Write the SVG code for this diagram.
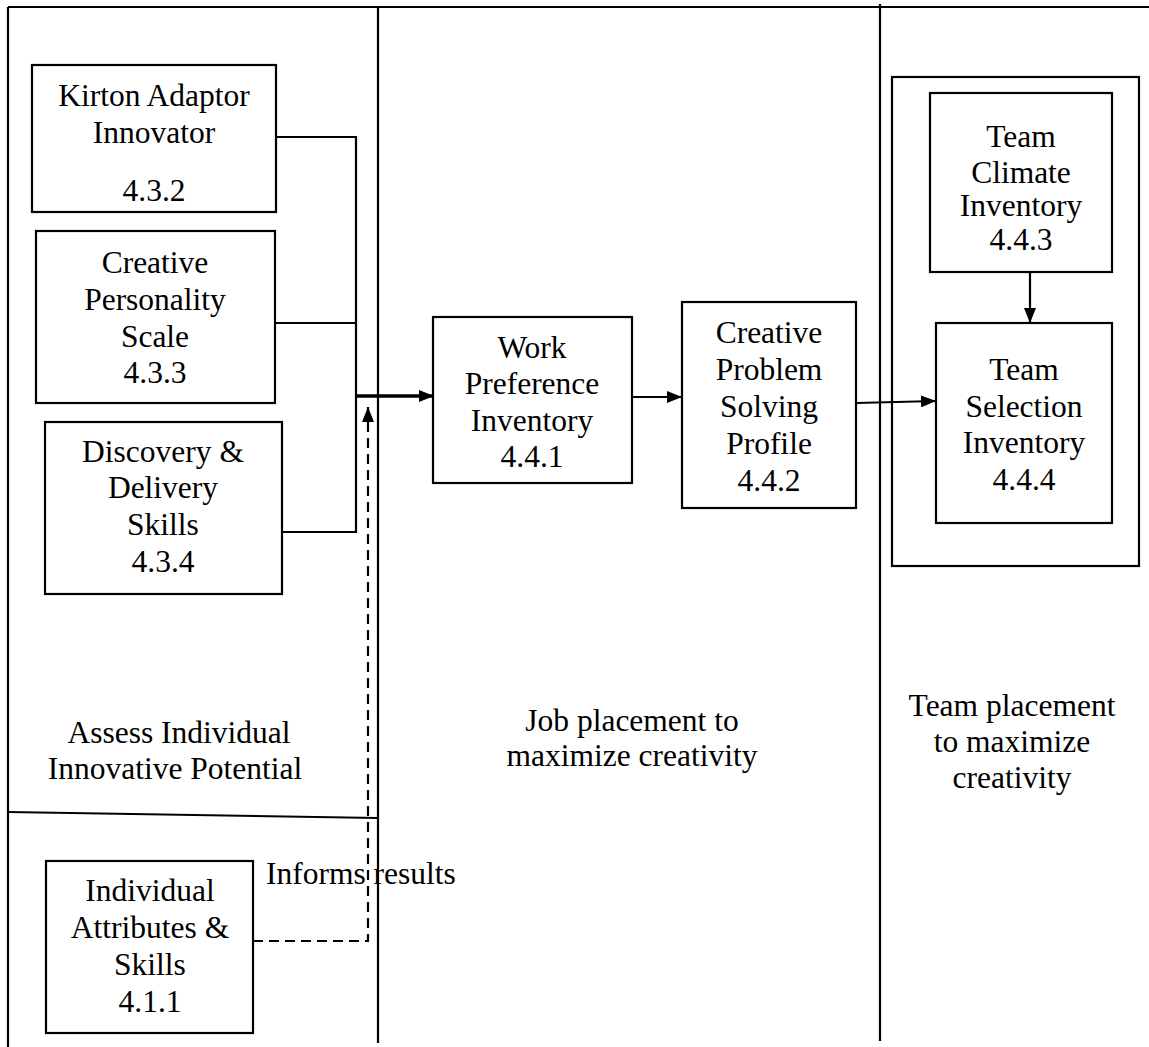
<svg xmlns="http://www.w3.org/2000/svg" width="1149" height="1047" viewBox="0 0 1149 1047">
  <style>
    .box { fill: #fff; stroke: #000; stroke-width: 2.2; }
    .frame { fill: none; stroke: #000; stroke-width: 2.2; }
    .conn { fill: none; stroke: #000; stroke-width: 2.2; }
    .thick { fill: none; stroke: #000; stroke-width: 3.5; }
    .dash { fill: none; stroke: #000; stroke-width: 2.2; stroke-dasharray: 10 6; }
    text { font-family: "Liberation Serif", "Times New Roman", serif; font-size: 31.5px; fill: #000; }
    .c { text-anchor: middle; }
  </style>
  <defs>
    <marker id="head" viewBox="0 0 15 12" refX="15" refY="6" markerWidth="15" markerHeight="12" markerUnits="userSpaceOnUse" orient="auto">
      <path d="M0,0 L15,6 L0,12 z" fill="#000" stroke="none"/>
    </marker>
  </defs>
  <rect width="1149" height="1047" fill="#fff"/>

  <!-- swimlane frame -->
  <g id="lanes">
    <line class="frame" x1="8" y1="7" x2="1149" y2="7"/>
    <line class="frame" x1="8" y1="7" x2="8" y2="1047"/>
    <line class="frame" x1="378" y1="7" x2="378" y2="1043"/>
    <line class="frame" x1="880" y1="4" x2="880" y2="1041"/>
    <line class="frame" x1="8" y1="812" x2="378" y2="818"/>
  </g>

  <!-- lane captions -->
  <g id="lane-labels">
    <text class="c" x="179" y="743">Assess Individual</text>
    <text class="c" x="175" y="779">Innovative Potential</text>
    <text class="c" x="632" y="731">Job placement to</text>
    <text class="c" x="632" y="766">maximize creativity</text>
    <text class="c" x="1012" y="716">Team placement</text>
    <text class="c" x="1012" y="752">to maximize</text>
    <text class="c" x="1012" y="788">creativity</text>
  </g>

  <!-- team grouping container -->
  <g id="team-group">
    <rect class="box" x="892" y="77" width="247" height="489"/>
  </g>

  <g id="kirton">
    <rect class="box" x="32" y="65" width="244" height="147"/>
    <text class="c" x="154" y="106">Kirton Adaptor</text>
    <text class="c" x="154" y="143">Innovator</text>
    <text class="c" x="154" y="201">4.3.2</text>
  </g>

  <g id="creative-personality">
    <rect class="box" x="36" y="231" width="239" height="172"/>
    <text class="c" x="155" y="273">Creative</text>
    <text class="c" x="155" y="310">Personality</text>
    <text class="c" x="155" y="347">Scale</text>
    <text class="c" x="155" y="383">4.3.3</text>
  </g>

  <g id="discovery-delivery">
    <rect class="box" x="45" y="422" width="237" height="172"/>
    <text class="c" x="163" y="462">Discovery &amp;</text>
    <text class="c" x="163" y="498">Delivery</text>
    <text class="c" x="163" y="535">Skills</text>
    <text class="c" x="163" y="572">4.3.4</text>
  </g>

  <g id="individual-attributes">
    <rect class="box" x="46" y="861" width="207" height="172"/>
    <text class="c" x="150" y="901">Individual</text>
    <text class="c" x="150" y="938">Attributes &amp;</text>
    <text class="c" x="150" y="975">Skills</text>
    <text class="c" x="150" y="1012">4.1.1</text>
  </g>

  <g id="work-preference">
    <rect class="box" x="433" y="317" width="199" height="166"/>
    <text class="c" x="532" y="358">Work</text>
    <text class="c" x="532" y="394">Preference</text>
    <text class="c" x="532" y="431">Inventory</text>
    <text class="c" x="532" y="467">4.4.1</text>
  </g>

  <g id="creative-problem-solving">
    <rect class="box" x="682" y="302" width="174" height="206"/>
    <text class="c" x="769" y="343">Creative</text>
    <text class="c" x="769" y="380">Problem</text>
    <text class="c" x="769" y="417">Solving</text>
    <text class="c" x="769" y="454">Profile</text>
    <text class="c" x="769" y="491">4.4.2</text>
  </g>

  <g id="team-climate">
    <rect class="box" x="930" y="93" width="182" height="179"/>
    <text class="c" x="1021" y="147">Team</text>
    <text class="c" x="1021" y="183">Climate</text>
    <text class="c" x="1021" y="216">Inventory</text>
    <text class="c" x="1021" y="250">4.4.3</text>
  </g>

  <g id="team-selection">
    <rect class="box" x="936" y="323" width="176" height="200"/>
    <text class="c" x="1024" y="380">Team</text>
    <text class="c" x="1024" y="417">Selection</text>
    <text class="c" x="1024" y="453">Inventory</text>
    <text class="c" x="1024" y="490">4.4.4</text>
  </g>

  <!-- connectors -->
  <g id="connectors">
    <polyline class="conn" points="276,137 356,137 356,532 282,532"/>
    <line class="conn" x1="275" y1="323" x2="356" y2="323"/>
    <line class="thick" x1="355" y1="396" x2="434" y2="396" marker-end="url(#head)"/>
    <polyline class="dash" points="253,941 368,941 368,407" marker-end="url(#head)"/>
    <line class="conn" x1="632" y1="397" x2="682" y2="397" marker-end="url(#head)"/>
    <line class="conn" x1="856" y1="403" x2="936" y2="401" marker-end="url(#head)"/>
    <line class="conn" x1="1030" y1="272" x2="1030" y2="323" marker-end="url(#head)"/>
  </g>

  <text x="266" y="884">Informs results</text>
</svg>
